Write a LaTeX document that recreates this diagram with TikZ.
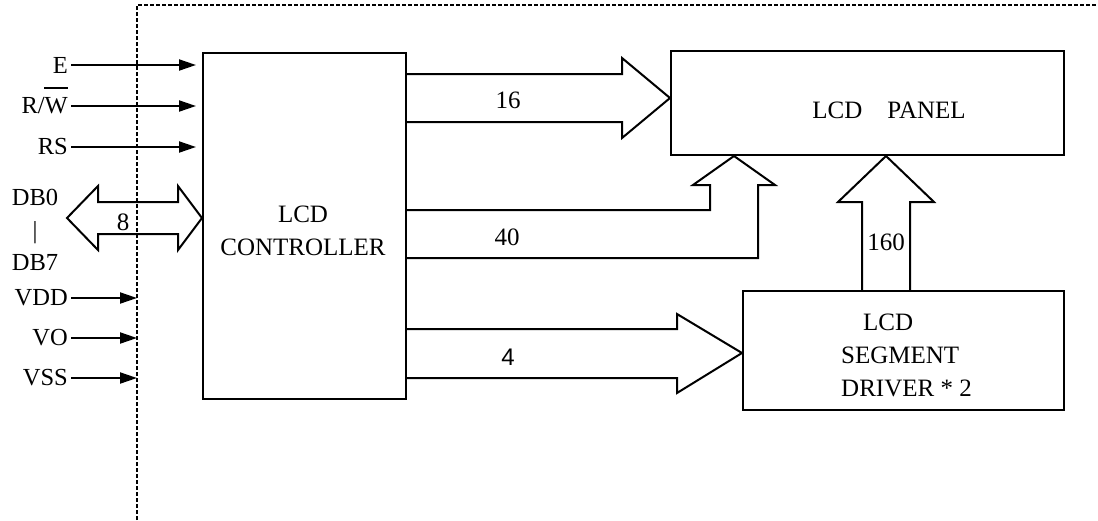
\documentclass[tikz,border=0pt]{standalone}
\usepackage{fontspec}
\setmainfont{Liberation Serif}
\newfontfamily\digitsans{Liberation Sans}
\usetikzlibrary{positioning,arrows.meta,calc}

\begin{document}
\begin{tikzpicture}[x=1pt, y=-1pt,
      block/.style={draw, line width=2pt, inner sep=0pt, anchor=north west},
      txt/.style={inner sep=0pt, align=center, font=\fontsize{25}{33}\selectfont},
      sig/.style={inner sep=3pt, anchor=east, font=\fontsize{24.5}{32}\selectfont},
      sarrow/.style={-{Triangle[length=17pt, width=11pt]}, line width=2pt},
      bus/.style={draw, line width=2pt},
      frame/.style={dash pattern=on 4pt off 2pt, line width=1.3pt},
    ]
  \useasboundingbox (0,0) rectangle (1098,520);
  % chip outline
  \coordinate (fr) at (137,5);
  \draw[frame] (137,520) -- (fr) -- (1098,5);

  % blocks
  \node[block, minimum width=203pt, minimum height=346pt] (ctrl) at (202,52) {};
  \node[block, minimum width=393pt, minimum height=104pt] (panel) at (670,50) {};
  \node[block, minimum width=321pt, minimum height=119pt] (drv) at (742,290) {};
  \node[txt] (ctrltxt) at (303,231) {LCD\\CONTROLLER};
  \node[txt] (paneltxt) at (889,110) {LCD\quad PANEL};
  \node[txt, align=left, anchor=west] (drvtxt) at (841,355) {\hspace*{22pt}LCD\\SEGMENT\\DRIVER * 2};

  % control and supply pins
  \node[sig] (e) at (71,65) {E};
  \node[sig] (rw) at (71,106) {R/W};
  \node[sig] (rs) at (71,147) {RS};
  \draw[line width=1.5pt] (44,88) -- (68,88);
  \foreach \s in {e,rw,rs}
    \draw[sarrow, shorten >=6pt] (\s.east) -- (ctrl.west |- \s.east);
  \node[sig] (vdd) at (71,298) {VDD};
  \node[sig] (vo) at (71,338) {VO};
  \node[sig] (vss) at (71,378) {VSS};
  \foreach \s in {vdd,vo,vss}
    \draw[sarrow] (\s.east) -- (fr |- \s.east);

  % data bus
  \node[txt, font=\fontsize{24.5}{32.5}\selectfont] (db) at (35,230) {DB0\\|\\DB7};
  \draw[bus] (67,218) -- (98,186) -- (98,202) -- (178,202) -- (178,186)
    -- (ctrl.west |- 0,218) -- (178,250) -- (178,234) -- (98,234) -- (98,250) -- cycle;
  \node[txt] (b8) at (123,222) {8};

  % buses to panel and driver
  \draw[bus] (ctrl.east |- 0,74) -- (622,74) -- (622,58) -- (panel.west |- 0,98)
    -- (622,138) -- (622,122) -- (ctrl.east |- 0,122);
  \node[txt] (b16) at (508,100) {16};
  \draw[bus] (ctrl.east |- 0,210) -- (710,210) -- (710,185) -- (693,185)
    -- (734,0 |- panel.south) -- (775,185) -- (758,185) -- (758,258) -- (ctrl.east |- 0,258);
  \node[txt] (b40) at (507,237) {40};
  \draw[bus] (862,0 |- drv.north) -- (862,202) -- (838,202) -- (886,0 |- panel.south)
    -- (934,202) -- (910,202) -- (910,0 |- drv.north);
  \node[txt] (b160) at (886,242) {160};
  \draw[bus] (ctrl.east |- 0,329) -- (677,329) -- (677,314) -- (drv.west |- 0,353)
    -- (677,393) -- (677,378) -- (ctrl.east |- 0,378);
  \node[txt, font=\digitsans\fontsize{24}{32}\selectfont] (b4) at (508,357) {4};
\end{tikzpicture}
\end{document}
